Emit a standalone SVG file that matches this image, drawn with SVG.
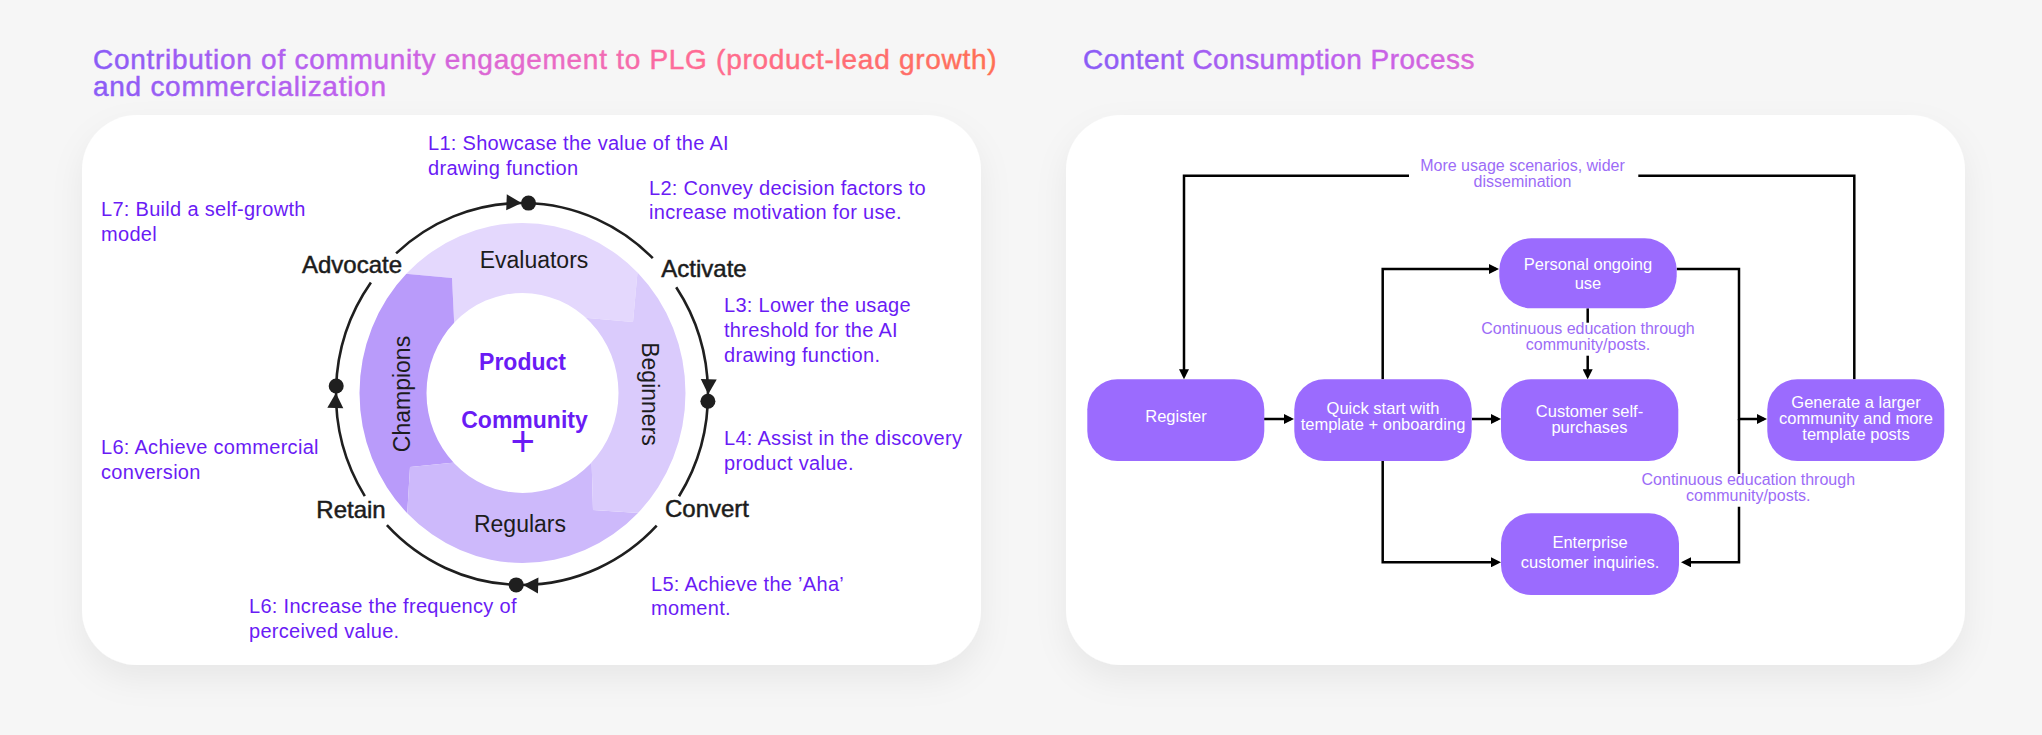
<svg xmlns="http://www.w3.org/2000/svg" width="2042" height="735" viewBox="0 0 2042 735">
<defs>
<linearGradient id="gTitleL" gradientUnits="userSpaceOnUse" x1="93" y1="0" x2="998" y2="0">
<stop offset="0" stop-color="#8b5cf6"/>
<stop offset="0.3" stop-color="#c261ec"/>
<stop offset="0.5" stop-color="#e86ac8"/>
<stop offset="0.66" stop-color="#ff6b95"/>
<stop offset="1" stop-color="#ff6f55"/>
</linearGradient>
<linearGradient id="gTitleR" gradientUnits="userSpaceOnUse" x1="1083" y1="0" x2="1988" y2="0">
<stop offset="0" stop-color="#8b5cf6"/>
<stop offset="0.3" stop-color="#c261ec"/>
<stop offset="0.5" stop-color="#e86ac8"/>
<stop offset="0.66" stop-color="#ff6b95"/>
<stop offset="1" stop-color="#ff6f55"/>
</linearGradient>
<filter id="shadow" x="-10%" y="-10%" width="120%" height="130%">
<feDropShadow dx="0" dy="14" stdDeviation="16" flood-color="#000" flood-opacity="0.06"/>
</filter>
<clipPath id="ringClip">
<path clip-rule="evenodd" d="M359.5,393 a163,170 0 1,0 326,0 a163,170 0 1,0 -326,0 z M426.5,393 a96,100 0 1,0 192,0 a96,100 0 1,0 -192,0 z"/>
</clipPath>
<marker id="ah" viewBox="0 0 10 10" refX="7" refY="5" markerWidth="10" markerHeight="10" markerUnits="userSpaceOnUse" orient="auto">
<path d="M0,0 L10,5 L0,10 z" fill="#000"/>
</marker>
<style>
.title{font-family:"Liberation Sans",Arial,sans-serif;font-size:28px;stroke-width:0.45px;}
.lbl{font-family:"Liberation Sans",Arial,sans-serif;font-size:20px;fill:#6a1bf5;letter-spacing:0.3px;}
.stage{font-family:"Liberation Sans",Arial,sans-serif;font-size:24px;fill:#1c1c1c;stroke:#1c1c1c;stroke-width:0.5px;text-anchor:middle;}
.seg{font-family:"Liberation Sans",Arial,sans-serif;font-size:23px;fill:#1c1c1c;text-anchor:middle;}
.core{font-family:"Liberation Sans",Arial,sans-serif;font-size:23px;font-weight:bold;fill:#6a1bf5;text-anchor:middle;}
.arc{fill:none;stroke:#1f1f1f;stroke-width:2.6px;}
.dot{fill:#1f1f1f;}
.node rect{fill:#9b6bfe;}
.ntxt{font-family:"Liberation Sans",Arial,sans-serif;font-size:16.5px;fill:#ffffff;text-anchor:middle;}
.elbl{font-family:"Liberation Sans",Arial,sans-serif;font-size:16px;fill:#9c6cf7;text-anchor:middle;}
.conn{fill:none;stroke:#000;stroke-width:2.5px;}
</style>
</defs>

<rect x="0" y="0" width="2042" height="735" fill="#f6f6f6"/>

<g id="title-left">
<text class="title" fill="url(#gTitleL)" stroke="url(#gTitleL)" x="93" y="69" letter-spacing="0.72">Contribution of community engagement to PLG (product-lead growth)</text>
<text class="title" fill="url(#gTitleL)" stroke="url(#gTitleL)" x="93" y="96" letter-spacing="0.72">and commercialization</text>
</g>
<g id="title-right">
<text class="title" fill="url(#gTitleR)" stroke="url(#gTitleR)" x="1083" y="69" letter-spacing="0.45">Content Consumption Process</text>
</g>

<rect id="card-left" x="82" y="115" width="899" height="550" rx="55" fill="#ffffff" filter="url(#shadow)"/>
<rect id="card-right" x="1066" y="115" width="899" height="550" rx="55" fill="#ffffff" filter="url(#shadow)"/>

<g id="ring-segments" clip-path="url(#ringClip)">
<polygon id="seg-evaluators" fill="#e4d8fd" points="644,200 633,322 560,315.5 522,393 455,340 452,278 330,267 330,200"/>
<polygon id="seg-champions" fill="#b99bfa" points="452,278 455,340 522,393 470,461 410,467 402,600 330,600 330,267"/>
<polygon id="seg-regulars" fill="#cdb9fb" points="410,467 470,461 522,393 591,440 593,510 720,518 720,600 402,600"/>
<polygon id="seg-beginners" fill="#dacbfc" points="593,510 591,440 522,393 560,315.5 633,322 644,200 720,200 720,518"/>
</g>

<g id="ring-texts">
<text class="seg" x="534" y="268">Evaluators</text>
<text class="seg" x="520" y="531.5">Regulars</text>
<text class="seg" transform="translate(410,394) rotate(-90)">Champions</text>
<text class="seg" transform="translate(642,394) rotate(90)">Beginners</text>
</g>

<g id="core">
<text class="core" x="522.5" y="370">Product</text>
<text class="core" x="524.5" y="427.7">Community</text>
<text x="522.7" y="455.5" font-family="Liberation Sans, Arial, sans-serif" font-size="42" fill="#6a1bf5" text-anchor="middle">+</text>
</g>

<g id="cycle-connectors">
<path class="arc" d="M396.1,253.4 A186,191 0 0,1 652.8,258.2"/>
<path class="arc" d="M676.2,287.2 A186,191 0 0,1 679.0,496.3"/>
<path class="arc" d="M656.7,525.7 A186,191 0 0,1 386.9,525.2"/>
<path class="arc" d="M364.8,496.1 A186,191 0 0,1 370.9,282.6"/>
<polygon class="dot" points="0,0 -15,-8 -15,8" transform="translate(521.5,202.9) rotate(2.1)"/>
<polygon class="dot" points="0,0 -15,-8 -15,8" transform="translate(708.2,394.3) rotate(92.1)"/>
<polygon class="dot" points="0,0 -15,-8 -15,8" transform="translate(523.2,585.1) rotate(181.8)"/>
<polygon class="dot" points="0,0 -15,-8 -15,8" transform="translate(335.9,393) rotate(272.3)"/>
<circle class="dot" cx="528.5" cy="203.1" r="7.5"/>
<circle class="dot" cx="707.9" cy="401.3" r="7.5"/>
<circle class="dot" cx="516.2" cy="584.9" r="7.5"/>
<circle class="dot" cx="336.2" cy="386" r="7.5"/>
</g>

<g id="stage-advocate"><text class="stage" x="352" y="273.3">Advocate</text></g>
<g id="stage-activate"><text class="stage" x="704" y="277.3">Activate</text></g>
<g id="stage-convert"><text class="stage" x="707" y="517.3">Convert</text></g>
<g id="stage-retain"><text class="stage" x="351" y="518.3">Retain</text></g>

<g id="label-l1"><text class="lbl" x="428" y="150">L1: Showcase the value of the AI</text><text class="lbl" x="428" y="174.5">drawing function</text></g>
<g id="label-l2"><text class="lbl" x="649" y="195">L2: Convey decision factors to</text><text class="lbl" x="649" y="219">increase motivation for use.</text></g>
<g id="label-l7"><text class="lbl" x="101" y="216">L7: Build a self-growth</text><text class="lbl" x="101" y="240.5">model</text></g>
<g id="label-l3"><text class="lbl" x="724" y="311.7">L3: Lower the usage</text><text class="lbl" x="724" y="336.5">threshold for the AI</text><text class="lbl" x="724" y="361.5">drawing function.</text></g>
<g id="label-l4"><text class="lbl" x="724" y="445">L4: Assist in the discovery</text><text class="lbl" x="724" y="469.5">product value.</text></g>
<g id="label-l6a"><text class="lbl" x="101" y="454.3">L6: Achieve commercial</text><text class="lbl" x="101" y="479">conversion</text></g>
<g id="label-l5"><text class="lbl" x="651" y="590.7">L5: Achieve the ’Aha’</text><text class="lbl" x="651" y="615">moment.</text></g>
<g id="label-l6b"><text class="lbl" x="249" y="613.3">L6: Increase the frequency of</text><text class="lbl" x="249" y="638">perceived value.</text></g>

<g id="connectors">
<path class="conn" marker-end="url(#ah)" d="M1264,419 H1291"/>
<path class="conn" marker-end="url(#ah)" d="M1472,419 H1498"/>
<path class="conn" marker-end="url(#ah)" d="M1382.7,379.3 V269 H1496"/>
<path class="conn" marker-end="url(#ah)" d="M1382.7,461 V562.3 H1498"/>
<path class="conn" d="M1587.7,308.3 V322.7"/>
<path class="conn" marker-end="url(#ah)" d="M1587.7,355.7 V376.3"/>
<path class="conn" marker-end="url(#ah)" d="M1676.7,269 H1739 V419 H1764"/>
<path class="conn" d="M1739,419 V474"/>
<path class="conn" marker-end="url(#ah)" d="M1739,506.7 V562.3 H1684"/>
<path class="conn" d="M1854.3,379.3 V175.7 H1638.3"/>
<path class="conn" marker-end="url(#ah)" d="M1409,175.7 H1184 V376.3"/>
<text class="elbl" x="1522.5" y="170.7">More usage scenarios, wider</text>
<text class="elbl" x="1522.5" y="186.7">dissemination</text>
<text class="elbl" x="1588" y="334.3">Continuous education through</text>
<text class="elbl" x="1588" y="350">community/posts.</text>
<text class="elbl" x="1748.3" y="485">Continuous education through</text>
<text class="elbl" x="1748.3" y="501">community/posts.</text>
</g>

<g id="node-register" class="node">
<rect x="1087.3" y="379.3" width="177" height="81.7" rx="30"/>
<text class="ntxt" x="1176" y="421.7">Register</text>
</g>
<g id="node-quickstart" class="node">
<rect x="1294.3" y="379.3" width="177.4" height="81.7" rx="30"/>
<text class="ntxt" x="1383" y="414">Quick start with</text>
<text class="ntxt" x="1383" y="430">template + onboarding</text>
</g>
<g id="node-personal" class="node">
<rect x="1499.3" y="238.3" width="177.4" height="70" rx="32"/>
<text class="ntxt" x="1588" y="270">Personal ongoing</text>
<text class="ntxt" x="1588" y="289.3">use</text>
</g>
<g id="node-selfpurchase" class="node">
<rect x="1501" y="379.3" width="177.3" height="81.7" rx="30"/>
<text class="ntxt" x="1589.5" y="416.7">Customer self-</text>
<text class="ntxt" x="1589.5" y="432.7">purchases</text>
</g>
<g id="node-enterprise" class="node">
<rect x="1501" y="513.3" width="178" height="81.7" rx="30"/>
<text class="ntxt" x="1590" y="547.7">Enterprise</text>
<text class="ntxt" x="1590" y="567.7">customer inquiries.</text>
</g>
<g id="node-generate" class="node">
<rect x="1767.3" y="379.3" width="177" height="81.7" rx="30"/>
<text class="ntxt" x="1856" y="408.3">Generate a larger</text>
<text class="ntxt" x="1856" y="424">community and more</text>
<text class="ntxt" x="1856" y="440">template posts</text>
</g>
</svg>
